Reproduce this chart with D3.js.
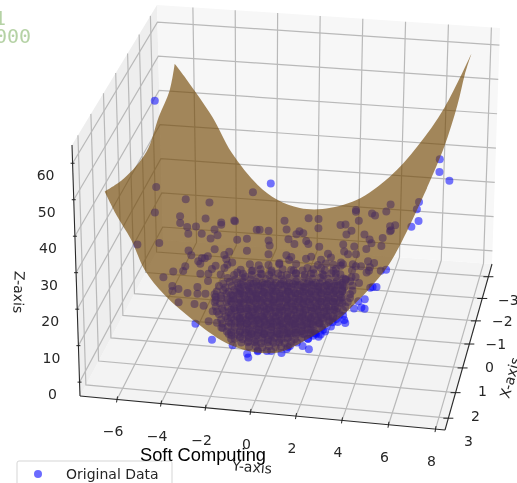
<!DOCTYPE html>
<html><head><meta charset="utf-8">
<script src="https://cdn.jsdelivr.net/npm/d3@7"></script>
<style>html,body{margin:0;padding:0;background:#fff;overflow:hidden}svg{display:block;filter:blur(.45px)}</style>
</head><body><div id="c"></div>
<script>
const xTicks=[-3,-2,-1,0,1,2,3];
const yTicks=[-6,-4,-2,0,2,4,6,8];
const zTicks=[0,10,20,30,40,50,60];
const xDomain=[3.45,-3.6], yDomain=[-7.7,8.4], zDomain=[-3.8,65];
const legendLabel="Original Data", titleText="Soft Computing";

// surface outline: the four edges of the fitted surface
const surfXBack=-3, surfXFront=3, surfYLeft=-6.6, surfYRight=7.3;
const surfYBackEdge=[-6.6,-6.04,-4.84,-3.92,-2.66,-1.71,-.62,.48,2.09,3.63,4.89,6.13,7.3];
const surfZBackEdge=[51.5,47.1,36.8,26.8,17.9,14,12.1,12.3,15.6,23,32.3,44.4,60.6];
const surfXRightEdge=[-3,-2,-1,.8,3];
const surfZRightEdge=[60.6,59.9,56.8,55.4,57.5];
const surfYFrontEdge=[7.3,6.27,5.64,4.88,3.57,2.25,1.13,.03,-1.16,-2.62,-4.04,-4.9,-5.48,-6.11,-6.6];
const surfZFrontEdge=[57.5,42.5,35.1,28.9,20.1,14,10.1,9.3,10.8,16,22.9,29.3,37.3,43.8,50];
const surfXLeftEdge=[3,1.5,-.4,-1.5,-2.5,-3];
const surfZLeftEdge=[50,44.5,40.9,44.5,46.5,51.5];

// scatter, by depth level
const xLevelBack=-1;
const yBack=[-6.5,-1.14,7.03,6.57,6.57,5.68,5.59,5.68,5.36,-6.52,-5.13,-6.61,-4.01,-5.41,-5.41,-5.08,-4.66,-4.2,-5.03,-4.39,-3.78,-3.46,-3.46,-2.85,-2.81,-3.64,-3.97,-2.71,-2.25,-1.97,-7.49,-6.43,-1.79,4.39,4.2,3.55,3.69,2.81,2.81,2.95,.63,1.09,1.09,-.49,-.39,-1.65,-1.23,.21,.39,.07,2.11,2.34,2.62,2.39,3.22,4.39,4.62,4.39,4.43,4.06,3.46,-.3,-1.23,.53,-5.03,-4.9,-4.39,-4.11,-3.78,-3.32,-2.25,-2.11,-4.57,-3.74,-3.18,-1.18,-1.23,.63,1.14,1.55,.77,.53,-.39,-.26,-.72,.07,-1.23,2.25,2.3,2.76,2.85,3.32,4.01,3.55,3.41,2.25,2.85,2.71,1.46,
-3.09,-3.23,-2.95,-3.92,-3.32,-1.69,-.72,-3.5,-4.11,-4.25,-.02,1.69,2.48,-.16,1.23,-.16,2.16,3.09,3.69,3.46,
-2.71,-2.34,-1.97,-1.55,-1.09,-.63,.07,.77,1.37,1.93,2.39,2.85];
const zBack=[52,30.7,35.2,41.1,37.5,28.6,26.5,23.2,21.4,27.3,24.4,19.9,24,19.4,17.5,16.5,16.8,19.3,14.6,14.9,16.4,18.5,17.9,19.4,19.2,14.8,13.7,13.9,14.4,27.8,10.4,11.3,17.2,27.3,25.2,24.3,23.8,25,24.5,22,21.6,21.6,19,20.4,17.9,17.3,17.2,17.7,17.2,16.8,20.4,20.6,19,17.8,18.2,21.1,21.5,19.7,20,17.6,16.9,15.2,14.4,15.1,9.8,8.5,7.9,8.6,10.7,9.3,11,7.2,6.9,6,6.6,13,10.5,14.3,13.7,11.9,10.7,10,10.6,9.3,7.9,8.3,7.4,14.9,12.9,14.6,12.4,14.1,15.3,15.9,10.7,9.3,9,9.5,9.1,
10.3,8.2,7.3,5,5.6,7.1,8.2,3.6,1.5,7.9,14,10.9,12.2,10.2,10.1,6.5,9.7,9.1,10.3,8,
4.6,3.6,5.5,4.6,5.4,4.8,5.5,5.9,5.7,6.5,5.1,5.9];

const xLevelMid=1;
const yMid=[-4.14,-4.24,-4.7,-5.16,-3.45,-3.45,-3.08,-4.75,-4.47,-4.75,-4.05,-3.59,-4.47,-3.73,-3.31,-3.59,-3.22,-2.75,-3.08,-2.43,-2.15,-2.89,4.21,1.89,2.58,2.91,3.42,4.07,3.74,3.14,2.58,2.03,1.42,
-1.6,-1.1,-.7,-.2,.3,.8,1.2,1.7,2.2,2.7,
-1.9,-1.5,-1.1,-.7,-.3,.1,.5,.9,1.3,1.7,2.1,2.5,2.9,
-2.2,-1.85,-1.5,-1.15,-.8,-.45,-.1,.25,.6,.95,1.3,1.65,2,2.35,2.7,3.05,3.4,
-2.4,-2.1,-1.75,-1.5,-1.15,-.9,-.6,-.25,0,.35,.6,.9,1.25,1.5,1.8,2.1,2.4,2.75,3,3.35,
-2.6,-2.3,-2,-1.7,-1.45,-1.1,-.8,-.5,-.2,.1,.4,.7,1,1.3,1.6,1.9,2.2,2.5,2.8,3.1,3.45,
-2.7,-2.4,-2.15,-1.9,-1.6,-1.35,-1.05,-.8,-.55,-.25,0,.3,.55,.8,1.1,1.35,1.6,1.9,2.15,2.45,2.7,3,3.45,
-2.8,-2.5,-2.25,-1.95,-1.7,-1.45,-1.15,-.9,-.6,-.35,-.1,.2,.45,.7,1,1.25,1.5,1.8,2.05,2.35,2.6,2.9,3.35,
-2.75,-2.5,-2.2,-1.95,-1.65,-1.4,-1.1,-.85,-.6,-.3,-.05,.2,.5,.75,1.05,1.3,1.55,1.85,2.1,2.4,2.65,2.95,3.35,
-2.8,-2.55,-2.25,-2,-1.7,-1.45,-1.2,-.9,-.65,-.35,-.1,.15,.45,.7,1,1.25,1.5,1.8,2.05,2.3,2.6,2.9,3.25,
-2.75,-2.45,-2.2,-1.9,-1.65,-1.35,-1.1,-.85,-.55,-.3,-.05,.25,.5,.75,1.05,1.3,1.6,1.85,2.1,2.4,2.7,3.15,
-2.7,-2.4,-2.15,-1.85,-1.6,-1.3,-1.05,-.8,-.5,-.25,0,.3,.55,.85,1.1,1.35,1.65,1.9,2.2,2.45,2.75,3.05,
-2.6,-2.3,-2.05,-1.75,-1.5,-1.2,-.95,-.65,-.4,-.1,.15,.4,.7,.95,1.25,1.5,1.75,2.05,2.3,2.6,2.9,
-2.5,-2.2,-1.9,-1.65,-1.35,-1.1,-.8,-.55,-.25,0,.25,.55,.8,1.1,1.35,1.6,1.9,2.15,2.45,2.75,
-1.6,-1.28,-1.02,-.7,-.38,-.1,.22,.5,.78,1.1,1.42,1.7,1.98,2.3,2.62,2.9,
-1.8,-1.52,-1.2,-.92,-.6,-.28,0,.32,.6,.88,1.2,1.52,1.8,2.08,2.4,2.72,3,
-1.9,-1.58,-1.3,-1,-.72,-.4,-.1,.18,.5,.8,1.08,1.4,1.68,2,2.3,2.58,2.9,
-1.9,-1.6,-1.32,-1,-.7,-.42,-.1,.2,.48,.8,1.1,1.38,1.7,2,2.28,2.6,2.8,
-1.8,-1.5,-1.22,-.9,-.6,-.32,0,.3,.58,.9,1.2,1.48,1.8,2.08,2.38,2.6,
-1.6,-1.32,-1,-.7,-.4,-.12,.2,.5,.78,1.1,1.4,1.68,2,2.2,
-1.4,-1.1,-.8,-.5,-.22,.1,.4,.7,.98,1.3,1.6,1.8];
const zMid=[18.1,16.7,16.3,14.5,19.1,16.3,16.5,12.2,11.5,10.8,10.6,12.5,7.8,7.7,7.4,10.6,10.8,10.2,3.2,1.6,.1,6.1,21.9,21.4,21.8,21.7,20.6,20.4,17.3,17.9,20.1,20.6,20.3,
18.3,18.2,18.9,18.8,19.4,19.3,19.5,20.1,20.1,20.7,
16.7,17.3,17.1,17.7,17.5,18.1,18,18.6,18.4,19,18.9,19.4,19.3,
15.7,15.5,16.1,15.9,16.5,16.3,16.8,16.6,17.2,17,17.6,17.4,17.9,17.8,18.4,18.2,18.7,
14.1,14.7,14.5,15,14.8,15.3,15.1,15.7,15.4,16,15.7,16.3,16.1,16.6,16.4,16.9,16.7,17.3,17,17.6,
13.3,13,13.6,13.4,13.9,13.7,14.2,14,14.6,14.3,14.9,14.6,15.2,14.9,15.5,15.3,15.7,15.6,16.1,15.9,16.4,
11.7,12.2,11.9,12.5,12.3,12.8,12.5,13.1,12.8,13.3,13.1,13.7,13.3,13.9,13.7,14.2,13.9,14.5,14.3,14.8,14.6,15.1,15,
10.9,10.6,11.2,10.9,11.5,11.2,11.7,11.5,12,11.8,12.3,12,12.6,12.4,12.9,12.6,13.2,12.9,13.5,13.2,13.8,13.6,14,
9.4,9.9,9.7,10.2,10,10.5,10.3,10.8,10.6,11.1,10.9,11.4,11.2,11.7,11.4,12,11.7,12.3,12,12.5,12.3,12.8,12.9,
8.7,8.4,9,8.7,9.2,9.1,9.5,9.3,9.8,9.6,10.1,9.9,10.4,10.2,10.7,10.5,10.9,10.8,11.2,11.1,11.5,11.4,11.8,
7.4,7.1,7.7,7.4,7.9,7.7,8.2,7.9,8.5,8.2,8.7,8.9,9,9.3,9.2,9.6,9.5,9.8,9.8,10.1,10.2,10.5,
6.1,6.5,6.2,6.8,6.6,7.1,6.8,7.4,7.2,7.7,7.4,7.9,7.7,8.3,8,8.6,8.3,8.9,8.5,9.1,8.9,9.3,
5.4,5,5.7,5.3,5.9,5.7,6.2,5.9,6.5,6.2,6.8,6.5,7.1,6.8,7.4,7,7.6,7.3,7.9,7.5,8.1,
4,4.5,4.1,4.8,4.4,5,4.7,5.3,4.9,5.6,5.2,5.8,5.4,6.1,5.8,6.3,6,6.6,6.3,6.8,
14.3,14.1,14.7,14.4,15,14.7,15.3,15.1,15.6,15.4,15.9,15.7,16.3,16,16.6,16.4,
12,11.7,12.4,12.1,12.7,12.4,13,12.7,13.3,13,13.6,13.4,13.9,13.7,14.3,14,14.6,
9.7,9.4,10,9.8,10.3,10,10.6,10.4,10.9,10.6,11.2,11,11.5,11.3,11.8,11.6,12.1,
7.5,7.2,7.8,7.6,8.1,7.8,8.4,8.1,8.7,8.4,9,8.7,9.3,9.1,9.6,9.3,9.9,
5.2,4.9,5.5,5.2,5.8,5.5,6.1,5.9,6.4,6.1,6.7,6.4,7,6.8,7.3,7,
3,3.4,3.3,3.7,3.6,4,3.9,4.2,4.3,4.5,4.7,4.8,5.1,5.1,
.9,.7,1.2,1,1.4,1.3,1.8,1.6,2.1,1.9,2.4,2.4];

const xLevelNear=2;
const yNear=[-2.2,-1.95,-1.65,-1.4,-1.1,-.85,-.55,-.3,-.05,.2,.5,.75,1.05,1.3,1.55,1.85,2.1,2.4,2.8,3.2,
-2,-1.7,-1.4,-1.15,-.85,-.6,-.3,-.05,.25,.5,.75,1.05,1.3,1.6,1.85,2.15,2.5,2.9,
-1.75,-1.45,-1.15,-.9,-.6,-.3,-.05,.25,.5,.8,1.05,1.35,1.6,1.9,2.2,2.55,
-1.55,-1.25,-.95,-.65,-.35,-.1,.2,.5,.75,1.05,1.35,1.65,1.95,2.25,
-1.4,-1.05,-.75,-.45,-.15,.1,.4,.7,1,1.3,1.6,1.9,
-1.1,-.8,-.5,-.2,.1,.35,.6,.85,1.15,1.4,
-.75,-.45,-.15,.15,.45,.7,1,
-.35,.25];
const zNear=[9.7,9.6,10.2,10,10.6,10.2,10.9,10.6,11.1,10.9,11.4,11.1,11.7,11.4,12,11.7,12.2,12,12.6,12.7,
8.5,8.9,8.8,9.3,9.1,9.6,9.4,9.9,9.7,10.2,9.9,10.5,10.3,10.8,10.5,11.1,10.9,11.3,
7.5,7.8,7.9,8.4,8.1,8.7,8.4,9,8.7,9.3,9,9.6,9.3,9.9,9.7,10.2,
6.6,6.9,7,7.4,7.2,7.8,7.5,8.1,8,8.4,8.2,8.7,8.6,8.9,
5.7,5.8,6.3,6,6.6,6.3,6.9,6.7,7.2,7,7.5,7.4,
4.8,5,5.3,5.1,5.6,5.5,5.8,5.7,6.2,6.1,
3.8,4.1,3.9,4.4,4.3,4.6,4.7,
3,3.2];

const xLevelWide=1.5;
const yWide=[-1.8,-1.8,-1.8,-1.8,-1.8,-1.8,-1.8,
-1.4,-1.4,-1.4,-1.4,-1.4,-1.4,-1.4,-1.4,
-1,-1,-1,-1,-1,-1,-1,-1,-1,
-.65,-.65,-.65,-.65,-.65,-.65,-.65,-.65,-.65,
-.3,-.3,-.3,-.3,-.3,-.3,-.3,-.3,-.3,
.05,.05,.05,.05,.05,.05,.05,.05,.05,
.4,.4,.4,.4,.4,.4,.4,.4,.4,
.75,.75,.75,.75,.75,.75,.75,.75,.75,
1.1,1.1,1.1,1.1,1.1,1.1,1.1,1.1,
1.45,1.45,1.45,1.45,1.45,1.45,1.45,1.45,
1.8,1.8,1.8,1.8,1.8,1.8,1.8,1.8,
2.15,2.15,2.15,2.15,2.15,2.15,2.15,
2.5,2.5,2.5,2.5,2.5,2.5,
2.85,2.85,2.85,2.85,2.85,
3.2,3.2,3.2,3.2];
const zWide=[14.3,12.6,10.2,8.1,6.4,4,2.2,
16.4,14.9,12.3,10.6,8,6.7,4.2,2.9,
17,15.2,13.4,11,9.2,7.5,5.1,3.5,1.9,
17.6,15.3,13.8,11.6,9.3,7.9,5.6,3.8,1.7,
18,15.8,14.1,12,10,8.2,6.1,4.2,2.4,
17.4,16.1,13.9,12.3,10.3,8,6.4,4.1,2.6,
18.2,15.9,14.4,12.1,10.7,8.3,6.7,4.6,3.1,
17.9,16.6,14.5,12.7,10.5,8.9,6.8,5,3.5,
18.6,16.4,15,13,11,9.2,7.3,5.4,
18.2,17,14.9,13.5,11.2,9.7,7.6,6.1,
19.1,17.1,15.4,13.4,11.8,9.9,8.2,6.6,
18.7,17.4,15.3,13.9,11.7,10.4,8.5,
19.2,17.5,15.8,14,12.2,10.6,
19.3,17.8,15.9,14.4,12.6,
19.6,18,16.3,14.6];

const xLevelEdge=2.5;
const yEdge=[5.45,5.22,5.05,4.88,4.78,4.55,4.27,4.09,4.41,4.55,3.62,3.67,3.72,3.16,2.84,2.65,2.56,2.32,2.09,1.86,2.14,1.3,1.16,.93,.28,-.13,-.6,-.55,-1.25,-2.18,-2.92];
const zEdge=[31.4,31,26.5,26.4,26.1,22.9,22.2,20.1,20.6,20.3,17.9,16.8,16,15.9,13.2,12.3,11.6,11.8,10.8,8.7,8,8.4,7.5,6.3,6.5,6.2,5.3,4.3,7.3,8.3,12.3];

const W=517,H=483;
const xS=d3.scaleLinear().domain(xDomain).range([0,1]);
const yS=d3.scaleLinear().domain(yDomain).range([0,1]);
const zS=d3.scaleLinear().domain(zDomain).range([0,1]);

function quad(p00,p10,p11,p01){
  const [x0,y0]=p00,[x1,y1]=p10,[x2,y2]=p11,[x3,y3]=p01;
  const dx1=x1-x2,dx2=x3-x2,sx=x0-x1+x2-x3,dy1=y1-y2,dy2=y3-y2,sy=y0-y1+y2-y3;
  const den=dx1*dy2-dx2*dy1;
  const g=(sx*dy2-dx2*sy)/den,h=(dx1*sy-sx*dy1)/den;
  const a=x1-x0+g*x1,b=x3-x0+h*x3,d=y1-y0+g*y1,e=y3-y0+h*y3;
  return (s,t)=>{const w=g*s+h*t+1;return [(a*s+b*t+x0)/w,(d*s+e*t+y0)/w];};
}
// box frame as seen in the reference view
const floorQ=quad([80,396],[445,430],[492,264],[163,240]);
const topQ=quad([72,145],[450,172],[500,28],[157,5]);
function P(x,y,z){
  const s=yS(y),t=xS(x),f=zS(z),a=floorQ(s,t),b=topQ(s,t);
  return [a[0]+(b[0]-a[0])*f,a[1]+(b[1]-a[1])*f];
}
const svg=d3.select("#c").append("svg").attr("width",W).attr("height",H).attr("viewBox",`0 0 ${W} ${H}`);
const [x0,x1]=xDomain,[y0,y1]=yDomain,[z0,z1]=zDomain;
const poly=pts=>"M"+pts.map(p=>p.map(v=>v.toFixed(2)).join(",")).join("L");

// panes
const panes=[
 {c:"#f3f3f3",p:[P(x0,y0,z0),P(x0,y1,z0),P(x1,y1,z0),P(x1,y0,z0)]},
 {c:"#eeeeee",p:[P(x0,y0,z0),P(x1,y0,z0),P(x1,y0,z1),P(x0,y0,z1)]},
 {c:"#f7f7f7",p:[P(x1,y0,z0),P(x1,y1,z0),P(x1,y1,z1),P(x1,y0,z1)]}];
svg.append("g").selectAll("path").data(panes).join("path").attr("d",d=>poly(d.p)+"Z").attr("fill",d=>d.c);

// grid
const grid=[];
yTicks.forEach(v=>grid.push([P(x0,v,z0),P(x1,v,z0),P(x1,v,z1)]));
xTicks.forEach(v=>grid.push([P(v,y1,z0),P(v,y0,z0),P(v,y0,z1)]));
zTicks.forEach(v=>grid.push([P(x0,y0,v),P(x1,y0,v),P(x1,y1,v)]));
svg.append("g").selectAll("path").data(grid).join("path").attr("d",poly).attr("fill","none").attr("stroke","#b9b9b9").attr("stroke-width",1.2);

// axes
const axes=[[P(x0,y0,z0),P(x0,y1,z0)],[P(x0,y1,z0),P(x1,y1,z0)],[P(x0,y0,z0),P(x0,y0,z1)]];
svg.append("g").selectAll("path").data(axes).join("path").attr("d",poly).attr("fill","none").attr("stroke","#2a2a2a").attr("stroke-width",1.1);
const tickG=svg.append("g").attr("stroke","#222").attr("stroke-width",1);
const mark=(p,dx0,dy0,dx1,dy1)=>tickG.append("line").attr("x1",p[0]+dx0).attr("y1",p[1]+dy0).attr("x2",p[0]+dx1).attr("y2",p[1]+dy1);
const lab=(t,p,dx,dy)=>svg.append("text").attr("x",p[0]+dx).attr("y",p[1]+dy).attr("text-anchor","middle").attr("font-family","DejaVu Sans").attr("font-size",14).attr("fill","#262626").text(t);
const fmt=v=>(v<0?"\u2212":"")+Math.abs(v);
yTicks.forEach(v=>{const p=P(x0,v,z0);mark(p,.5,-3,-.5,3);lab(fmt(v),p,-4,37);});
xTicks.forEach(v=>{const p=P(v,y1,z0);mark(p,-5,0,5,0);lab(fmt(v),p,20,28);});
zTicks.forEach(v=>{const p=P(x0,y0,v);mark(p,-2,0,2,0);lab(fmt(v),p,-27,17);});

// scatter
const levels=[[xLevelBack,yBack,zBack],[xLevelMid,yMid,zMid],[xLevelNear,yNear,zNear],[xLevelWide,yWide,zWide],[xLevelEdge,yEdge,zEdge]];
const pts=levels.flatMap(([x,ys,zs])=>ys.map((y,i)=>P(x,y,zs[i])));
svg.append("g").selectAll("circle").data(pts).join("circle")
 .attr("cx",d=>d[0]).attr("cy",d=>d[1]).attr("r",4)
 .attr("fill","#0000ff").attr("fill-opacity",.54);

// surface
const lineGen=d3.line().curve(d3.curveCatmullRom);
const edges=[
 surfYBackEdge.map((y,i)=>P(surfXBack,y,surfZBackEdge[i])),
 surfXRightEdge.map((x,i)=>P(x,surfYRight,surfZRightEdge[i])),
 surfYFrontEdge.map((y,i)=>P(surfXFront,y,surfZFrontEdge[i])),
 surfXLeftEdge.map((x,i)=>P(x,surfYLeft,surfZLeftEdge[i]))];
const dSurf=edges.map((e,i)=>{const s=lineGen(e);return i?"L"+s.slice(1):s;}).join("")+"Z";
svg.append("path").attr("d",dSurf).attr("fill","#714600").attr("fill-opacity",.635);

// axis titles
const atxt=(t,x,y,r)=>svg.append("text").attr("transform",`translate(${x},${y}) rotate(${r})`).attr("text-anchor","middle").attr("dominant-baseline","middle").attr("font-family","DejaVu Sans").attr("font-size",14).attr("fill","#262626").text(t);
atxt("Z-axis",18,292,92);
atxt("Y-axis",252,468,5);
atxt("X-axis",511,378,-74);

// legend
svg.append("rect").attr("x",17).attr("y",461).attr("width",155).attr("height",40).attr("rx",2).attr("fill","#fff").attr("fill-opacity",.8).attr("stroke","#d5d5d5");
svg.append("circle").attr("cx",38).attr("cy",474).attr("r",4).attr("fill","#0000ff").attr("fill-opacity",.58);
svg.append("text").attr("x",66).attr("y",479).attr("font-family","DejaVu Sans").attr("font-size",14).attr("fill","#262626").text(legendLabel);

// title
svg.append("text").attr("x",140).attr("y",461).attr("font-family","Liberation Sans").attr("font-size",18.3).attr("fill","#000").text(titleText);

// corner fragment
const corner=svg.append("g").attr("font-family","DejaVu Sans Mono").attr("font-size",20).attr("fill","#b5d2a5");
corner.append("text").attr("x",-6).attr("y",25).text("1");
corner.append("text").attr("x",-5).attr("y",43).text("000");
</script></body></html>
